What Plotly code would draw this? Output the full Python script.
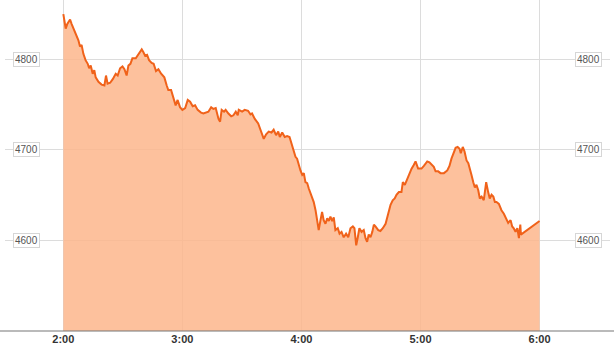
import pandas as pd
import plotly.graph_objects as go

# minutes after 2:00
minutes = [0, 1.2, 2.0, 3.4, 4.2, 5.9, 7.6, 8.4, 9.2, 10.1, 11.2, 12.3, 13.0, 13.8, 14.8, 15.6, 16.3, 17.7,
           19.3, 20.7, 21.5, 22.3, 23.6, 24.9, 26.4, 27.4, 28.6, 29.8, 30.8, 31.9, 32.8, 33.8, 34.8, 36.5,
           37.8, 39.5, 40.3, 41.2, 42.2, 43.2, 44.5, 45.5, 46.7, 47.9, 49.3, 50.9, 52.1, 52.9, 54.3, 55.5,
           56.6, 57.6, 58.8, 60.0, 61.4, 62.7, 63.9, 65.2, 66.4, 67.7, 69.4, 70.6, 71.8, 73.1, 74.5, 75.6,
           76.8, 78.2, 79.0, 79.8, 81.0, 81.8, 83.2, 84.6, 85.7, 86.9, 87.9, 88.4, 90.1, 91.4, 93.1, 94.3,
           95.1, 96.5, 98.2, 99.3, 101.0, 102.2, 103.5, 104.9, 106.0, 107.2, 108.3, 109.1, 110.3, 111.6,
           112.8, 114.0, 115.0, 116.1, 117.0, 117.8, 118.6, 119.5, 120.4, 121.2, 122.0, 122.9, 123.7,
           124.5, 125.4, 126.2, 127.1, 127.9, 128.7, 129.6, 130.4, 131.2, 132.1, 133.0, 133.8, 134.6,
           135.5, 136.3, 137.1, 138.3, 139.2, 140.2, 141.3, 142.5, 143.6, 144.7, 145.9, 146.7, 147.6,
           148.4, 149.2, 150.3, 151.4, 152.3, 153.1, 153.9, 154.8, 155.7, 156.5, 157.3, 158.7, 159.8,
           161.0, 162.4, 163.7, 164.9, 166.0, 167.0, 167.9, 169.1, 170.4, 171.1, 172.1, 173.3, 174.5,
           175.5, 176.6, 177.5, 178.8, 180.5, 181.7, 183.4, 184.5, 185.9, 186.7, 187.6, 188.9, 190.1,
           191.8, 193.5, 194.6, 195.6, 196.5, 197.7, 198.7, 199.7, 200.3, 201.3, 202.2, 203.2, 204.1,
           204.7, 205.7, 206.6, 207.4, 208.2, 209.1, 209.9, 210.8, 211.9, 213.1, 214.1, 214.9, 215.8,
           216.7, 217.5, 218.3, 219.5, 220.8, 222.0, 223.2, 224.2, 225.4, 226.2, 227.0, 227.9, 228.8,
           229.6, 230.3, 230.6, 240.0]
values = [4850, 4834, 4839, 4844, 4839, 4830, 4821, 4814, 4816, 4806, 4799, 4795, 4790, 4793, 4784, 4788, 4780, 4775,
          4772, 4771, 4782, 4773, 4774, 4778, 4784, 4782, 4790, 4792, 4789, 4782, 4793, 4795, 4801, 4801,
          4806, 4811, 4808, 4804, 4805, 4799, 4796, 4795, 4787, 4789, 4784, 4780, 4771, 4766, 4766, 4758,
          4749, 4755, 4747, 4744, 4746, 4755, 4753, 4748, 4749, 4744, 4741, 4740, 4741, 4742, 4747, 4745,
          4746, 4734, 4731, 4744, 4742, 4744, 4740, 4737, 4738, 4742, 4738, 4744, 4742, 4744, 4743, 4739,
          4740, 4734, 4729, 4723, 4712, 4717, 4720, 4719, 4722, 4716, 4720, 4714, 4719, 4714,
          4715, 4714, 4707, 4698, 4692, 4690, 4683, 4677, 4672, 4674, 4664, 4663, 4657,
          4652, 4646, 4642, 4633, 4622, 4611, 4622, 4631, 4622, 4618, 4624, 4621, 4626,
          4621, 4625, 4611, 4613, 4607, 4609, 4603, 4607, 4603, 4613, 4615, 4613, 4594,
          4603, 4613, 4609, 4611, 4602, 4598, 4606, 4603, 4609, 4617, 4615, 4611, 4610,
          4613, 4618, 4628, 4639, 4644, 4646, 4650, 4653, 4653, 4664, 4661, 4668, 4674,
          4679, 4683, 4687, 4679, 4679, 4682, 4687, 4686, 4682, 4681, 4676, 4676, 4674,
          4674, 4677, 4682, 4690, 4696, 4702, 4703, 4701, 4696, 4703, 4698, 4688, 4685,
          4679, 4672, 4664, 4658, 4661, 4655, 4646, 4648, 4644, 4664, 4653, 4646, 4650,
          4648, 4642, 4642, 4640, 4633, 4629, 4624, 4619, 4622, 4615, 4613, 4609, 4613,
          4602, 4617, 4606, 4621]
y_ticks = [4600, 4700, 4800]
y_labels = ["4600", "4700", "4800"]

base = pd.Timestamp("2024-01-01 02:00:00")
times = [base + pd.Timedelta(minutes=m) for m in minutes]

fig = go.Figure()
fig.add_trace(go.Scatter(
    x=times, y=values, mode="lines",
    line=dict(color="#F0621A", width=2),
    fill="tozeroy", fillcolor="rgba(253,182,140,0.85)",
    hoverinfo="skip", showlegend=False,
))

W, H = 614, 346
ml, mr, mt, mb = 5, 4, 0, 15
pw = W - ml - mr

fig.update_layout(
    width=W, height=H,
    margin=dict(l=ml, r=mr, t=mt, b=mb),
    paper_bgcolor="white", plot_bgcolor="white",
    xaxis=dict(
        range=[base - pd.Timedelta(minutes=29.4), base + pd.Timedelta(minutes=275.5)],
        tick0=base, dtick=3600000, tickformat="%-H:%M",
        showgrid=True, gridcolor="#dcdcdc", gridwidth=1,
        showline=False, zeroline=False, ticks="",
        tickfont=dict(family="Liberation Sans, Arial", size=11, color="#333", weight="bold"),
        layer="below traces",
    ),
    yaxis=dict(
        range=[4499.3, 4865.6],
        tickvals=y_ticks, showticklabels=False,
        showgrid=True, gridcolor="#dcdcdc", gridwidth=1,
        zeroline=False, showline=False, ticks="",
    ),
)

# bottom axis line spanning full width
fig.add_shape(type="line", xref="paper", yref="paper",
              x0=-ml / pw, x1=1 + mr / pw, y0=0, y1=0,
              line=dict(color="#777", width=1.2))

for v, lab in zip(y_ticks, y_labels):
    for xp in [(26 - ml) / pw, (588 - ml) / pw]:
        fig.add_annotation(x=xp, y=v, xref="paper", yref="y", text=lab,
                           showarrow=False, xanchor="center", yanchor="middle",
                           font=dict(family="Liberation Sans, Arial", size=10, color="#555"),
                           bgcolor="white", bordercolor="#d6d6d6", borderwidth=1, borderpad=1)

fig.write_html("out.html")
